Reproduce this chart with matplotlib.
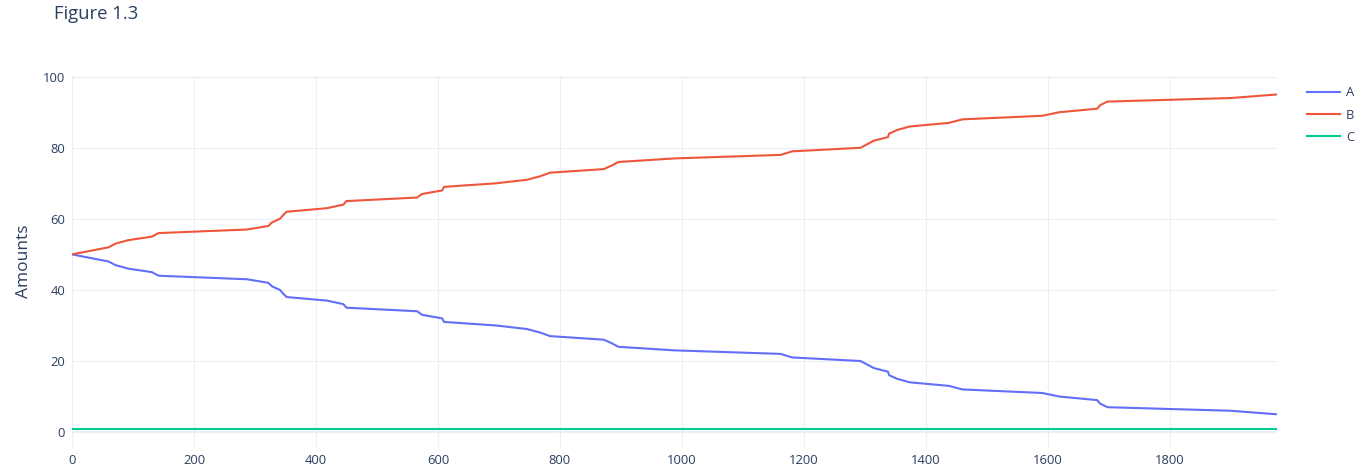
import matplotlib
matplotlib.use('Agg')
import matplotlib.pyplot as plt

# ========== DANE ==========

times = [0, 30, 60, 71, 92, 131, 142, 287, 322, 328, 341, 346, 352, 418, 445, 450,
         566, 574, 607, 610, 695, 746, 768, 784, 872, 885, 896, 987, 1162, 1181,
         1293, 1304, 1315, 1338, 1340, 1353, 1374, 1438, 1460, 1591, 1619, 1681,
         1686, 1698, 1900, 1976]
a_vals = [50, 49, 48, 47, 46, 45, 44, 43, 42, 41, 40, 39, 38, 37, 36, 35,
          34, 33, 32, 31, 30, 29, 28, 27, 26, 25, 24, 23, 22, 21,
          20, 19, 18, 17, 16, 15, 14, 13, 12, 11, 10, 9,
          8, 7, 6, 5]
b_vals = [50, 51, 52, 53, 54, 55, 56, 57, 58, 59, 60, 61, 62, 63, 64, 65,
          66, 67, 68, 69, 70, 71, 72, 73, 74, 75, 76, 77, 78, 79,
          80, 81, 82, 83, 84, 85, 86, 87, 88, 89, 90, 91,
          92, 93, 94, 95]
c_times = [0, 1976]
c_vals = [1, 1]

series_names = ['A', 'B', 'C']
x_ticks = [0, 200, 400, 600, 800, 1000, 1200, 1400, 1600, 1800]
y_ticks = [0, 20, 40, 60, 80, 100]

# ========== WYKRES ==========

plt.rcParams['font.family'] = ['Open Sans', 'DejaVu Sans']
text_color = '#2a3f5f'
grid_color = '#EBF0F8'

fig = plt.figure(figsize=(13.66, 4.73), dpi=100)
ax = fig.add_axes([72 / 1366, 1 - 447 / 473, (1277 - 72) / 1366, (447 - 76) / 473])

ax.plot(times, a_vals, color='#636EFA', lw=1.5, label=series_names[0], zorder=3)
ax.plot(times, b_vals, color='#EF553B', lw=1.5, label=series_names[1], zorder=3)
ax.plot(c_times, c_vals, color='#00CC96', lw=1.5, label=series_names[2], zorder=3)

ax.set_xlim(0, 1976)
ax.set_ylim(-4.2, 100.2)
ax.set_xticks(x_ticks)
ax.set_yticks(y_ticks)
ax.grid(color=grid_color, lw=0.8, zorder=0)
ax.axhline(0, color=grid_color, lw=1.6, zorder=1)
ax.axvline(0, color=grid_color, lw=1.6, zorder=1)
for s in ax.spines.values():
    s.set_visible(False)
ax.tick_params(length=0, labelsize=9.4, colors=text_color, pad=5)
ax.set_ylabel('Amounts', fontsize=12.5, color=text_color, labelpad=8)

fig.text(54 / 1366, 1 - 14 / 473, 'Figure 1.3', fontsize=13.3, color=text_color,
         ha='left', va='center')

# legenda po prawej, jak w plotly
leg = ax.legend(loc='upper left', bbox_to_anchor=(1307 / 1366, 1 - 86.5 / 473),
                bbox_transform=fig.transFigure, frameon=False, borderpad=0,
                fontsize=9.4, handlelength=2.55, handletextpad=0.45, labelspacing=0.7,
                borderaxespad=0)
for t in leg.get_texts():
    t.set_color(text_color)

fig.savefig('out.png', dpi=100)
